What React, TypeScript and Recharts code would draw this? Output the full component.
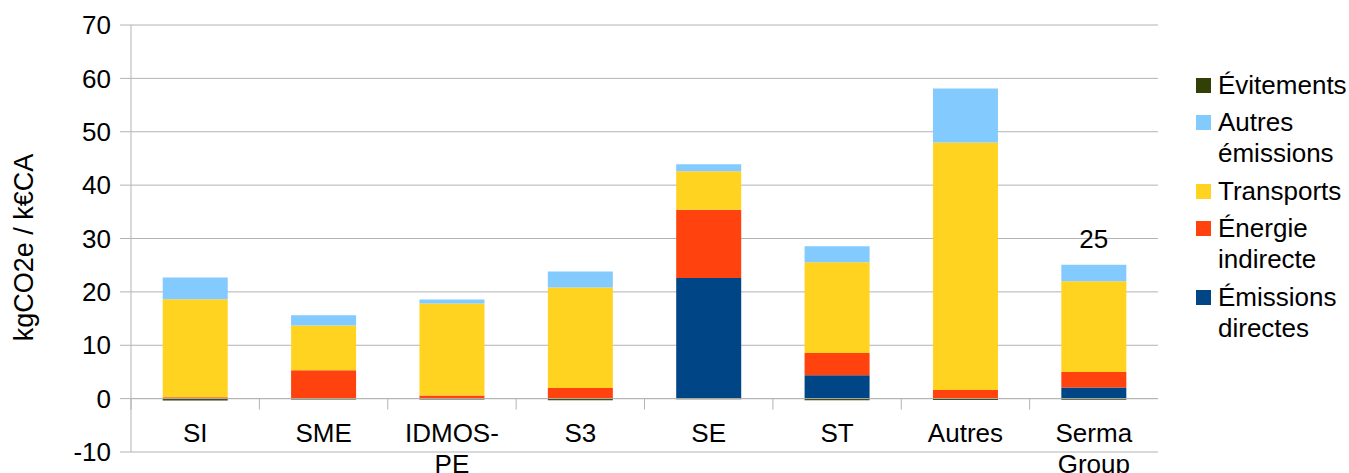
import React from 'react';
import { BarChart, Bar, XAxis, YAxis, CartesianGrid, Legend, ReferenceLine, LabelList } from 'recharts';

const categories = ['SI', 'SME', 'IDMOS-PE', 'S3', 'SE', 'ST', 'Autres', 'Serma Group'];
const emissionsDirectes = [0, 0, 0, 0, 22.6, 4.4, 0, 2.1];
const energieIndirecte = [0.25, 5.3, 0.6, 2.0, 12.8, 4.15, 1.6, 2.9];
const transports = [18.35, 8.4, 17.2, 18.8, 7.2, 17.0, 46.4, 17.0];
const autresEmissions = [4.1, 1.9, 0.75, 3.0, 1.3, 3.0, 10.1, 3.1];
const evitements = [-0.35, -0.15, -0.15, -0.3, -0.1, -0.3, -0.25, -0.2];
const totalLabels = [null, null, null, null, null, null, null, '25'];
const yTicks = [-10, 0, 10, 20, 30, 40, 50, 60, 70];

const seriesNames: Record<string, string> = {
  directes: 'Émissions directes',
  energie: 'Énergie indirecte',
  transports: 'Transports',
  autres: 'Autres émissions',
  evitements: 'Évitements',
};
const seriesColors: Record<string, string> = {
  directes: '#004586',
  energie: '#ff420e',
  transports: '#ffd320',
  autres: '#83caff',
  evitements: '#314004',
};
const legendOrder = ['evitements', 'autres', 'transports', 'energie', 'directes'];

const data = categories.map((name, i) => ({
  name,
  directes: emissionsDirectes[i],
  energie: energieIndirecte[i],
  transports: transports[i],
  autres: autresEmissions[i],
  evitements: evitements[i],
  label: totalLabels[i],
}));

const FONT = '"Liberation Sans", Arial, sans-serif';
const GRID = '#b3b3b3';
const W = 1349;
const H = 473;
const M_TOP = 25;
const M_RIGHT = 191;
const Y_W = 131;
const X_H = 21;
const PLOT_TOP = M_TOP;
const PLOT_BOTTOM = H - X_H;
const PLOT_LEFT = Y_W;
const PLOT_RIGHT = W - M_RIGHT;
const ZERO_Y = PLOT_TOP + (PLOT_BOTTOM - PLOT_TOP) * (70 / 80);
const BAND = (PLOT_RIGHT - PLOT_LEFT) / categories.length;

function CategoryTick(props: any) {
  const { x, payload } = props;
  const half = payload && typeof payload.offset === 'number' && payload.offset > 0 ? payload.offset : BAND / 2;
  const lines = String(payload.value).split(/(?<=-)|\s+/).filter((s) => s.length > 0);
  return (
    <g>
      <line x1={x - half} x2={x - half} y1={ZERO_Y} y2={ZERO_Y + 11} stroke={GRID} strokeWidth={1} />
      <text x={x} y={ZERO_Y + 43} textAnchor="middle" fontSize={26} fontFamily={FONT} fill="#000">
        {lines.map((l, i) => (
          <tspan key={i} x={x} dy={i === 0 ? 0 : 31}>
            {l}
          </tspan>
        ))}
      </text>
    </g>
  );
}

function YTitle(props: any) {
  const vb = props.viewBox || { y: PLOT_TOP, height: PLOT_BOTTOM - PLOT_TOP };
  const cx = 33;
  const cy = vb.y + vb.height / 2 + 9;
  return (
    <text
      x={cx}
      y={cy}
      transform={`rotate(-90 ${cx} ${cy})`}
      textAnchor="middle"
      fontSize={27}
      fontFamily={FONT}
      fill="#000"
    >
      kgCO2e / k€CA
    </text>
  );
}

function LegendContent() {
  return (
    <div style={{ fontFamily: FONT, fontSize: 26, lineHeight: '31px', color: '#000' }}>
      {legendOrder.map((key) => (
        <div key={key} style={{ display: 'flex', alignItems: 'flex-start', marginBottom: 6.5 }}>
          <span
            style={{
              display: 'inline-block',
              width: 15,
              height: 15,
              background: seriesColors[key],
              marginTop: 8,
              marginRight: 7,
              flex: 'none',
            }}
          />
          <span>
            {seriesNames[key].split(' ').map((w: string, j: number) => (
              <div key={j} style={{ whiteSpace: 'nowrap' }}>
                {w}
              </div>
            ))}
          </span>
        </div>
      ))}
    </div>
  );
}

export default function App() {
  return (
    <div style={{ position: 'absolute', left: 0, top: 0, width: W, height: H, background: '#fff' }}>
      <BarChart
        width={W}
        height={H}
        data={data}
        stackOffset="sign"
        barCategoryGap="24.7%"
        margin={{ top: M_TOP, right: M_RIGHT, bottom: 0, left: 0 }}
        style={{ fontFamily: FONT }}
      >
        <CartesianGrid vertical={false} stroke={GRID} strokeWidth={1} />
        <XAxis
          dataKey="name"
          height={X_H}
          axisLine={false}
          tickLine={false}
          interval={0}
          tick={<CategoryTick />}
        />
        <YAxis
          width={Y_W}
          domain={[-10, 70]}
          ticks={yTicks}
          interval={0}
          allowDataOverflow
          axisLine={{ stroke: GRID }}
          tickLine={{ stroke: GRID }}
          tickSize={11}
          tickMargin={9}
          tick={{ fill: '#000', fontSize: 26, fontFamily: FONT }}
          label={{ content: <YTitle /> }}
        />
        <YAxis
          yAxisId="r"
          orientation="right"
          width={0}
          domain={[-10, 70]}
          tick={false}
          tickLine={false}
          axisLine={{ stroke: GRID }}
        />
        <ReferenceLine y={0} stroke={GRID} strokeWidth={1} />
        <Legend
          layout="vertical"
          align="center"
          verticalAlign="middle"
          wrapperStyle={{ left: 1196, top: 69.5, width: 153 }}
          content={<LegendContent />}
        />
        <Bar dataKey="directes" name={seriesNames.directes} stackId="s" fill={seriesColors.directes} isAnimationActive={false} />
        <Bar dataKey="energie" name={seriesNames.energie} stackId="s" fill={seriesColors.energie} isAnimationActive={false} />
        <Bar dataKey="transports" name={seriesNames.transports} stackId="s" fill={seriesColors.transports} isAnimationActive={false} />
        <Bar dataKey="autres" name={seriesNames.autres} stackId="s" fill={seriesColors.autres} isAnimationActive={false}>
          <LabelList dataKey="label" position="top" offset={17} fill="#000" fontSize={26} fontFamily={FONT} />
        </Bar>
        <Bar dataKey="evitements" name={seriesNames.evitements} stackId="s" fill={seriesColors.evitements} isAnimationActive={false} />
      </BarChart>
    </div>
  );
}
